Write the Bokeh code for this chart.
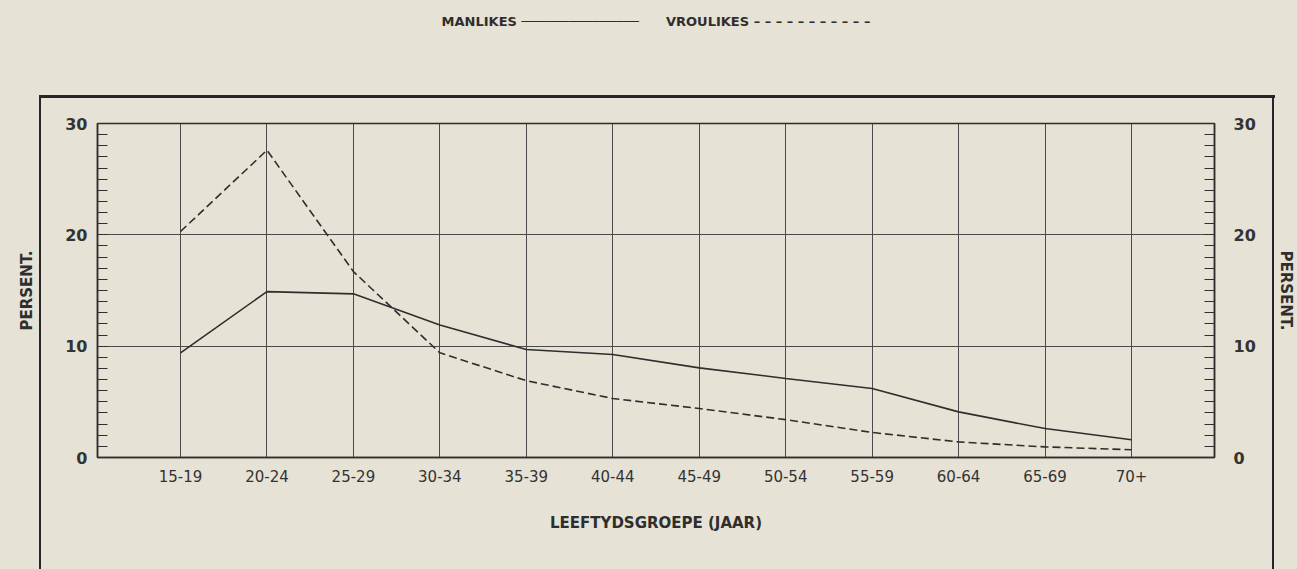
from bokeh.plotting import figure
from bokeh.models import (FactorRange, Range1d, LinearAxis, CategoricalAxis,
                          SingleIntervalTicker)
from bokeh.embed import file_html
from bokeh.resources import INLINE

# ---- data ----
categories = ["15-19", "20-24", "25-29", "30-34", "35-39", "40-44",
              "45-49", "50-54", "55-59", "60-64", "65-69", "70+"]
manlikes = [9.4, 14.9, 14.7, 11.9, 9.7, 9.25, 8.05, 7.1, 6.2, 4.1, 2.6, 1.6]
vroulikes = [20.3, 27.6, 16.7, 9.4, 6.9, 5.3, 4.4, 3.4, 2.25, 1.4, 0.95, 0.7]
series_names = ["MANLIKES", "VROULIKES"]
y_title = "PERSENT."
x_title = "LEEFTYDSGROEPE (JAAR)"

PAPER = "#e6e2d5"
INK = "#2e2e2e"
FONT = "DejaVu Sans"
NB = "\u00a0"

legend_text = (series_names[0] + NB + "\u2500" * 15 + NB * 6 +
               series_names[1] + NB + (NB.join(["\u2013"] * 11)))

page_frame_css = {
    "background-color": PAPER,
    "background-image": ("linear-gradient(#262626,#262626), "
                         "linear-gradient(#262626,#262626), "
                         "linear-gradient(#262626,#262626)"),
    "background-size": "2px 480px, 2px 480px, 1236px 3px",
    "background-position": "39px 96px, 1272px 96px, 39px 95px",
    "background-repeat": "no-repeat",
}

p = figure(
    x_range=FactorRange(factors=categories, range_padding=0.46,
                        range_padding_units="absolute"),
    y_range=Range1d(0, 30),
    width=1297, height=569,
    output_backend="svg", toolbar_location=None,
    min_border_left=97, min_border_right=81,
    min_border_top=123, min_border_bottom=112,
    styles=page_frame_css,
)
p.background_fill_color = PAPER
p.border_fill_color = PAPER
p.border_fill_alpha = 0
p.outline_line_color = INK
p.outline_line_width = 1.5

# grids
p.xgrid.grid_line_color = "#4a4a4a"
p.xgrid.grid_line_width = 1
p.ygrid.grid_line_color = "#4a4a4a"
p.ygrid.grid_line_width = 1
p.ygrid.ticker = SingleIntervalTicker(interval=10, num_minor_ticks=10)

# x axis
xa = p.xaxis[0]
xa.major_tick_in = 0
xa.major_tick_out = 0
xa.axis_line_color = INK
xa.axis_line_width = 1.5
xa.major_label_standoff = 12
xa.major_label_text_font = FONT
xa.major_label_text_font_size = "15px"
xa.major_label_text_color = "#333333"
xa.axis_label = x_title
xa.axis_label_text_font = FONT
xa.axis_label_text_font_size = "15px"
xa.axis_label_text_font_style = "bold"
xa.axis_label_text_color = INK
xa.axis_label_standoff = 29

# key line at the top: "MANLIKES ───  VROULIKES – – –"
p.extra_x_ranges = {"key": FactorRange(factors=[legend_text])}
key_axis = CategoricalAxis(
    x_range_name="key",
    axis_line_color=None,
    major_tick_line_color=None,
    minor_tick_line_color=None,
    major_tick_in=0, major_tick_out=0,
    major_label_standoff=95,
    major_label_text_font=FONT,
    major_label_text_font_size="13px",
    major_label_text_font_style="bold",
    major_label_text_color=INK,
)
p.add_layout(key_axis, "above")


def style_y(ax, standoff, label_standoff):
    ax.ticker = SingleIntervalTicker(interval=10, num_minor_ticks=10)
    ax.major_tick_in = 10
    ax.major_tick_out = 0
    ax.minor_tick_in = 10
    ax.minor_tick_out = 0
    ax.major_tick_line_color = INK
    ax.minor_tick_line_color = INK
    ax.axis_line_color = INK
    ax.axis_line_width = 1.5
    ax.major_label_standoff = standoff
    ax.major_label_text_font = FONT
    ax.major_label_text_font_size = "16px"
    ax.major_label_text_font_style = "bold"
    ax.major_label_text_color = "#333333"
    ax.axis_label = y_title
    ax.axis_label_text_font = FONT
    ax.axis_label_text_font_size = "15px"
    ax.axis_label_text_font_style = "bold"
    ax.axis_label_text_color = INK
    ax.axis_label_standoff = label_standoff


style_y(p.yaxis[0], 10, 26)
right_axis = LinearAxis()
style_y(right_axis, 19, 18)
p.add_layout(right_axis, "right")

# data lines
p.line(categories, manlikes, line_color=INK, line_width=1.6)
p.line(categories, vroulikes, line_color=INK, line_width=1.6, line_dash="8 4")

open("out.html", "w").write(file_html(p, INLINE))
